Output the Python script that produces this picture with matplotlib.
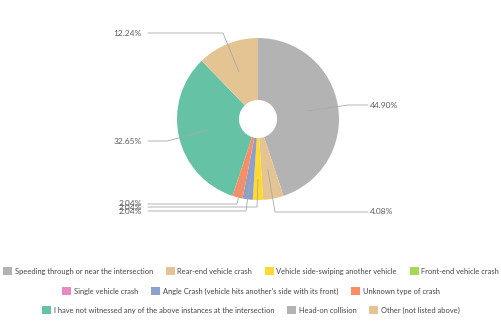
import numpy as np
import matplotlib
matplotlib.use("Agg")
import matplotlib.pyplot as plt
from matplotlib.patches import Patch

plt.rcParams['font.family'] = ['Lato', 'DejaVu Sans']

categories = [
    "Speeding through or near the intersection",
    "Rear-end vehicle crash",
    "Vehicle side-swiping another vehicle",
    "Front-end vehicle crash",
    "Single vehicle crash",
    "Angle Crash (vehicle hits another's side with its front)",
    "Unknown type of crash",
    "I have not witnessed any of the above instances at the intersection",
    "Head-on collision",
    "Other (not listed above)",
]
percentages = [44.90, 4.08, 2.04, 0.00, 0.00, 2.04, 2.04, 32.65, 0.00, 12.24]
colors = ["#b3b3b3", "#e5c494", "#ffd92f", "#a6d854", "#e78ac3",
          "#8da0cb", "#fc8d62", "#66c2a5", "#b3b3b3", "#e5c494"]
legend_rows = [[0, 1, 2, 3], [4, 5, 6], [7, 8, 9]]

W, H = 502, 324
fig = plt.figure(figsize=(W / 100, H / 100), dpi=100)
ax = fig.add_axes([0, 0, 1, 1])

cx, cy, R = 258, H - 119, 81
wedges, _ = ax.pie(percentages, colors=colors, startangle=90, counterclock=False,
                   radius=R, center=(cx, cy), frame=True,
                   wedgeprops=dict(width=R * 0.765, linewidth=0))
ax.set_xlim(0, W)
ax.set_ylim(0, H)
ax.axis("off")

# leader-line layout: (label y in px from top, elbow x, side)
label_layout = {
    0: (105, 348, "right"),
    1: (212, 275, "right"),
    2: (207, 257, "left"),
    5: (211, 246, "left"),
    6: (204, 237, "left"),
    7: (141, 167, "left"),
    9: (33, 223, "left"),
}
line_color = "#a8a8a8"
text_color = "#5a5a5a"
for i, (ly, ex, side) in label_layout.items():
    w = wedges[i]
    mid = np.deg2rad((w.theta1 + w.theta2) / 2)
    r_anchor = 0.75 if i in (2, 5, 6) else 0.63
    px = cx + r_anchor * R * np.cos(mid)
    py = cy + r_anchor * R * np.sin(mid)
    yy = H - ly
    if side == "right":
        ax.plot([px, ex, 368], [py, yy, yy], color=line_color, lw=0.6)
        ax.text(370, yy, f"{percentages[i]:.2f}%", ha="left", va="center",
                fontsize=6, color=text_color)
    else:
        ax.plot([px, ex, 148], [py, yy, yy], color=line_color, lw=0.6)
        ax.text(142, yy, f"{percentages[i]:.2f}%", ha="right", va="center",
                fontsize=6, color=text_color)

row_y = [1 - 271 / H, 1 - 291 / H, 1 - 310 / H]
for row, y in zip(legend_rows, row_y):
    handles = [Patch(facecolor=colors[k], edgecolor="none", label=categories[k]) for k in row]
    fig.legend(handles=handles, loc="center", bbox_to_anchor=(0.5, y), ncol=len(row),
               frameon=False, fontsize=5.4, handlelength=1.2, handleheight=1.2,
               handletextpad=0.35, columnspacing=1.7, borderpad=0, labelcolor="#444444")

fig.savefig("out.png", dpi=100)
